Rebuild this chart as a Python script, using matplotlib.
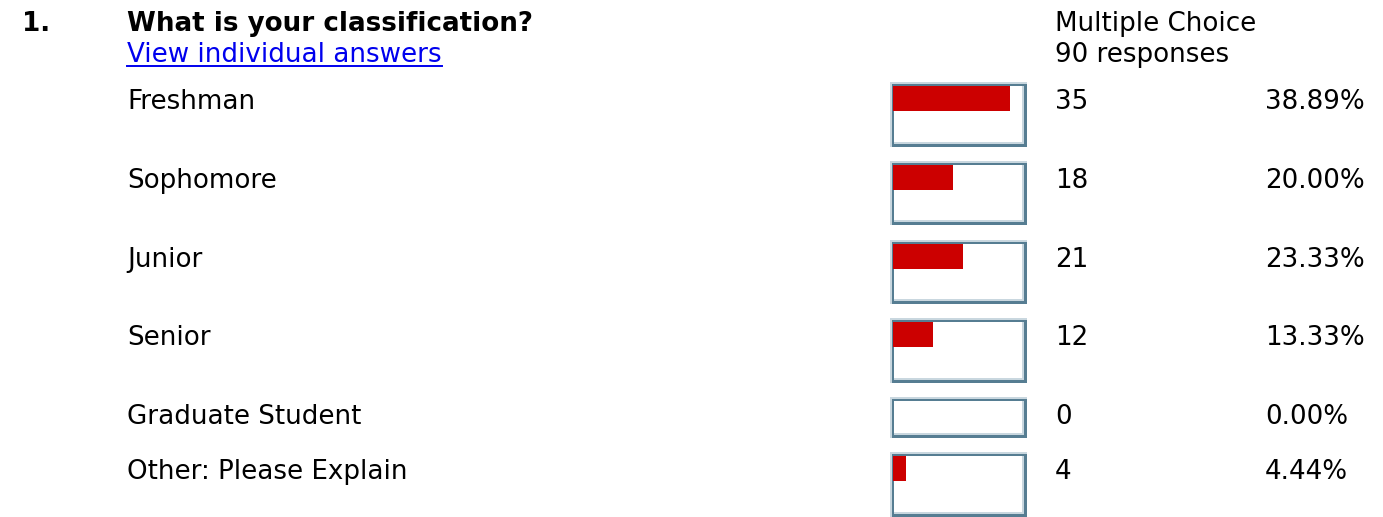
import matplotlib
matplotlib.use("Agg")
import matplotlib.pyplot as plt
from matplotlib.patches import Rectangle

# survey results
question = "What is your classification?"
choices = ["Freshman", "Sophomore", "Junior", "Senior",
           "Graduate Student", "Other: Please Explain"]
counts = [35, 18, 21, 12, 0, 4]
percents = [38.89, 20.00, 23.33, 13.33, 0.00, 4.44]
n_responses = 90

W, H = 1383, 517
DARK = "#567d92"
LIGHT = "#c9d7df"
RED = "#cc0000"
LINK = "#0000ee"
FS = 18.8

# top edge / bottom edge of each answer box (pixels)
box_top = [82, 161, 240, 318, 397, 452]
box_bot = [147, 225, 304, 383, 438, 517]
box_x0, box_x1 = 890, 1027
px_per_pct = 3.0

plt.rcParams["font.family"] = ["DejaVu Sans"]
fig = plt.figure(figsize=(W / 100, H / 100), dpi=100)
ax = fig.add_axes([0, 0, 1, 1])
ax.set_xlim(0, W)
ax.set_ylim(H, 0)
ax.axis("off")

# header
ax.text(22, 31, "1.", fontsize=FS, fontweight="bold", va="baseline")
ax.text(127, 31, question, fontsize=FS, fontweight="bold", va="baseline")
link = ax.text(127, 62, "View individual answers", fontsize=FS,
               color=LINK, va="baseline")
ax.text(1055, 31, "Multiple Choice", fontsize=FS, va="baseline")
ax.text(1055, 62, f"{n_responses} responses", fontsize=FS, va="baseline")

# underline the link
fig.canvas.draw()
bb = link.get_window_extent().transformed(ax.transData.inverted())
ax.plot([bb.x0, bb.x1], [65.5, 65.5], color=LINK, lw=1.4)


def frame(x0, y0, x1, y1):
    # grooved border: light/dark on top-left, dark/light on bottom-right
    kw = dict(lw=0, antialiased=False)
    ax.add_patch(Rectangle((x0, y0), x1 - x0, y1 - y0, color=LIGHT, **kw))
    ax.add_patch(Rectangle((x0 + 2, y0 + 2), x1 - x0 - 2, y1 - y0 - 2, color=DARK, **kw))
    ax.add_patch(Rectangle((x0 + 4, y0 + 4), x1 - x0 - 7, y1 - y0 - 7, color=LIGHT, **kw))
    ax.add_patch(Rectangle((x0 + 4, y0 + 4), x1 - x0 - 9, y1 - y0 - 9, color="white", **kw))


for i, (label, c, p) in enumerate(zip(choices, counts, percents)):
    top, bot = box_top[i], box_bot[i]
    base = top + 27
    ax.text(127, base, label, fontsize=FS, va="baseline")
    ax.text(1055, base, str(c), fontsize=FS, va="baseline")
    ax.text(1265, base, f"{p:.2f}%", fontsize=FS, va="baseline")

    frame(box_x0, top, box_x1, bot)

    # bar inside the frame
    ix0, iy0 = box_x0 + 3, top + 4
    iw, ih = box_x1 - box_x0 - 8, bot - top - 9
    bax = fig.add_axes([ix0 / W, 1 - (iy0 + ih) / H, iw / W, ih / H])
    bax.set_xlim(0, iw / px_per_pct)
    bax.set_ylim(ih, 0)
    bax.axis("off")
    bax.patch.set_alpha(0)
    if c > 0:
        bax.barh(0, p, height=25, align="edge", color=RED, lw=0)

fig.savefig("out.png", dpi=100)
